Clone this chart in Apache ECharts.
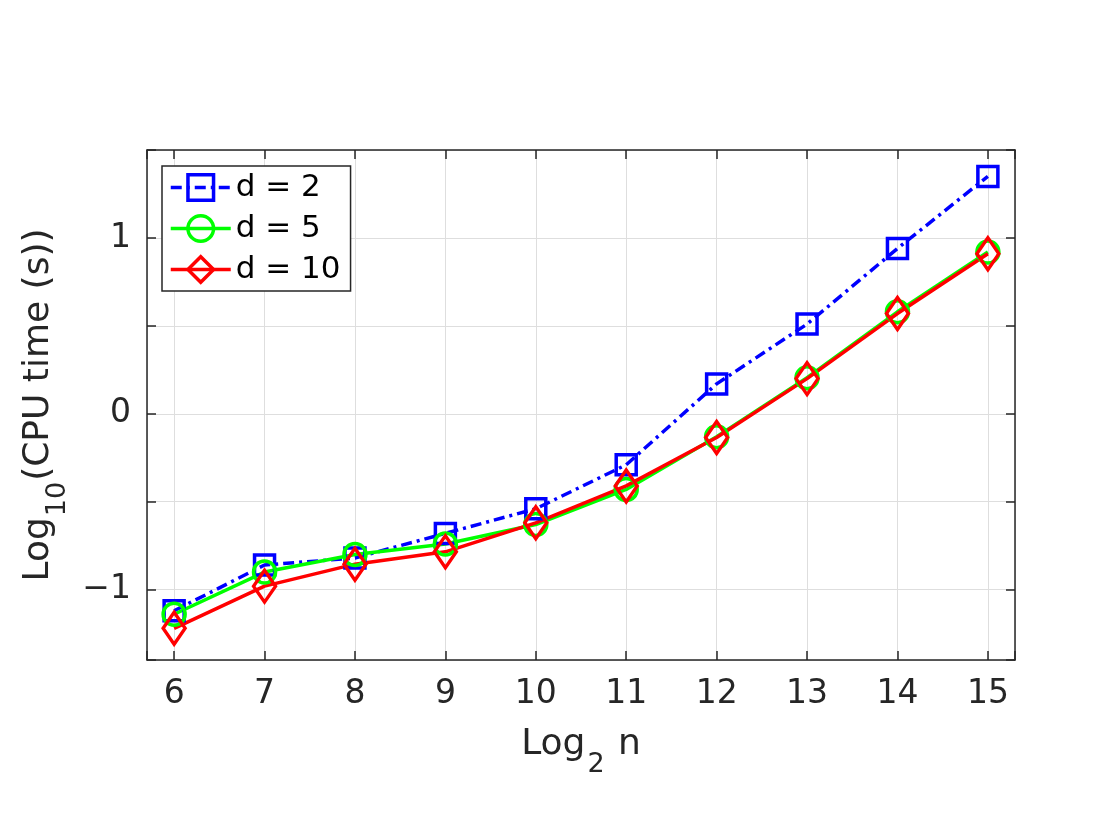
<!DOCTYPE html>
<html>
<head>
<meta charset="utf-8">
<script src="https://cdn.jsdelivr.net/npm/echarts@6/dist/echarts.min.js"></script>
<style>
  html, body { margin: 0; padding: 0; background: #fff; }
  #chart { width: 1120px; height: 840px; }
</style>
</head>
<body>
<div id="chart"></div>
<script>
// CPU time vs problem size, log-log
const log2n = [6, 7, 8, 9, 10, 11, 12, 13, 14, 15];
const d2 = [-1.12, -0.86, -0.82, -0.68, -0.54, -0.29, 0.17, 0.51, 0.94, 1.35];
const d5 = [-1.14, -0.90, -0.80, -0.74, -0.63, -0.43, -0.13, 0.205, 0.58, 0.92];
const d10 = [-1.22, -0.98, -0.855, -0.785, -0.62, -0.41, -0.135, 0.20, 0.57, 0.91];
const seriesNames = ['d = 2', 'd = 5', 'd = 10'];

const FONT = 'DejaVu Sans';
const AXIS_COLOR = '#262626';
const GRID_COLOR = '#dedede';

const pairs = (ys) => log2n.map((x, i) => [x, ys[i]]);
const isInt = (v) => Math.abs(v - Math.round(v)) < 1e-6;

const chart = echarts.init(document.getElementById('chart'));

const axisLineStyle = { show: true, onZero: false, lineStyle: { color: AXIS_COLOR, width: 1.5 } };
const tickStyle = { show: true, inside: true, length: 9, lineStyle: { color: AXIS_COLOR, width: 1.5 } };

const option = {
    backgroundColor: '#fff',
    animation: false,
    grid: { left: 147, right: 105, top: 150, bottom: 180, containLabel: false },
    legend: {
        data: seriesNames,
        orient: 'vertical',
        left: 162,
        top: 166,
        padding: [6, 10, 6, 7],
        itemWidth: 60,
        itemHeight: 32,
        itemGap: 10,
        backgroundColor: '#fff',
        borderColor: AXIS_COLOR,
        borderWidth: 1.5,
        lineStyle: { width: 3.5 },
        itemStyle: { borderWidth: 3.5 },
        textStyle: { fontFamily: FONT, fontSize: 31, color: '#000' }
    },
    xAxis: [
        {
            type: 'value',
            min: 5.7,
            max: 15.3,
            splitNumber: 10,
            name: '{a|Log}{b|2}{a| n}',
            nameLocation: 'middle',
            nameGap: 67,
            nameTextStyle: {
                rich: {
                    a: { fontFamily: FONT, fontSize: 36, color: AXIS_COLOR, lineHeight: 40, verticalAlign: 'top' },
                    b: { fontFamily: FONT, fontSize: 27, color: AXIS_COLOR, lineHeight: 27, padding: [24, 2, 0, 2], verticalAlign: 'top' }
                }
            },
            axisLine: axisLineStyle,
            axisTick: tickStyle,
            axisLabel: {
                margin: 18,
                fontFamily: FONT,
                fontSize: 33,
                color: AXIS_COLOR,
                formatter: (v) => isInt(v) ? String(v) : ''
            },
            splitLine: { show: true, lineStyle: { color: GRID_COLOR, width: 1 } }
        },
        {
            type: 'value',
            position: 'top',
            min: 5.7,
            max: 15.3,
            splitNumber: 10,
            axisLine: axisLineStyle,
            axisTick: tickStyle,
            axisLabel: { show: false },
            splitLine: { show: false }
        }
    ],
    yAxis: [
        {
            type: 'value',
            min: -1.4,
            max: 1.5,
            splitNumber: 5,
            name: '{a|Log}{b|10}{a|(CPU time (s))}',
            nameLocation: 'middle',
            nameRotate: 90,
            nameGap: 72,
            nameTextStyle: {
                rich: {
                    a: { fontFamily: FONT, fontSize: 36, color: AXIS_COLOR, lineHeight: 40, verticalAlign: 'top' },
                    b: { fontFamily: FONT, fontSize: 27, color: AXIS_COLOR, lineHeight: 27, padding: [24, 1, 0, 1], verticalAlign: 'top' }
                }
            },
            axisLine: axisLineStyle,
            axisTick: tickStyle,
            axisLabel: {
                margin: 16,
                fontFamily: FONT,
                fontSize: 33,
                color: AXIS_COLOR,
                formatter: (v) => isInt(v) ? (v < 0 ? '\u2212' + Math.abs(v) : String(v)) : ''
            },
            splitLine: { show: true, lineStyle: { color: GRID_COLOR, width: 1 } }
        },
        {
            type: 'value',
            position: 'right',
            min: -1.4,
            max: 1.5,
            splitNumber: 5,
            axisLine: axisLineStyle,
            axisTick: tickStyle,
            axisLabel: { show: false },
            splitLine: { show: false }
        }
    ],
    series: [
        {
            name: seriesNames[0],
            type: 'line',
            data: pairs(d2),
            symbol: 'rect',
            symbolSize: 20,
            color: '#0000ff',
            itemStyle: { color: 'rgba(0,0,0,0)', borderColor: '#0000ff', borderWidth: 3.5 },
            lineStyle: { color: '#0000ff', width: 3.5, type: [11, 5, 3, 5] }
        },
        {
            name: seriesNames[1],
            type: 'line',
            data: pairs(d5),
            symbol: 'circle',
            symbolSize: 22,
            color: '#00ff00',
            itemStyle: { color: 'rgba(0,0,0,0)', borderColor: '#00ff00', borderWidth: 3.5 },
            lineStyle: { color: '#00ff00', width: 3.5 }
        },
        {
            name: seriesNames[2],
            type: 'line',
            data: pairs(d10),
            symbol: 'diamond',
            symbolSize: [22, 32],
            color: '#ff0000',
            itemStyle: { color: 'rgba(0,0,0,0)', borderColor: '#ff0000', borderWidth: 3.5 },
            lineStyle: { color: '#ff0000', width: 3.5 }
        }
    ]
};

chart.setOption(option);
</script>
</body>
</html>
